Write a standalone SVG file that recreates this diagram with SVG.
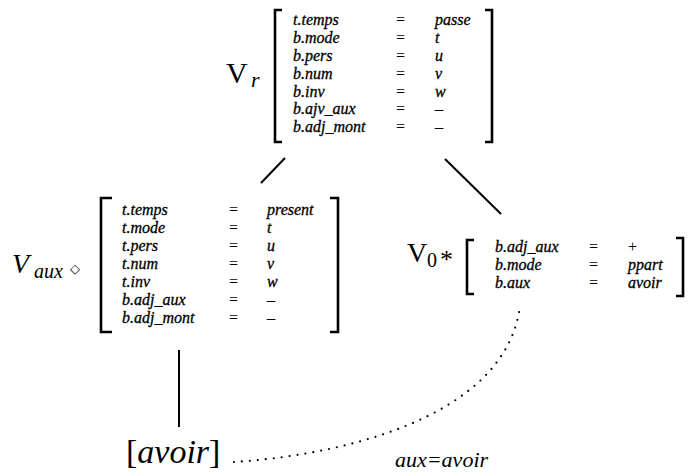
<svg xmlns="http://www.w3.org/2000/svg" width="688" height="475" viewBox="0 0 688 475">
<style>
text{font-family:'Liberation Serif','Times New Roman',serif;fill:#000}
.f{font-style:italic;font-size:16px;stroke:#000;stroke-width:0.3}
.eq{font-size:16px}
.br{fill:none;stroke:#000;stroke-width:2.6}
.ln{fill:none;stroke:#000;stroke-width:2}
.dot{fill:none;stroke:#000;stroke-width:2.2;stroke-linecap:round;stroke-dasharray:0 8}
</style>
<rect width="688" height="475" fill="#fff"/>
<g id="connectors">
<line class="ln" x1="285" y1="158" x2="261" y2="183"/>
<line class="ln" x1="445" y1="159" x2="501" y2="214"/>
<line class="ln" x1="179" y1="350" x2="179" y2="427"/>
<path class="dot" d="M234 462 C330 456 505 422 520 306"/>
<text x="395" y="467" font-size="22" font-style="italic">aux=avoir</text>
</g>
<g id="node-vr">
<text x="226" y="83" font-size="30">V</text>
<text x="251" y="87" font-size="22" font-style="italic">r</text>
<path class="br" d="M282 10 H275 V142 H282"/>
<path class="br" d="M485 10 H492 V142 H485"/>
<text class="f" x="293" y="25">t.temps</text><text class="eq" x="396" y="25">=</text><text class="f" x="435" y="25">passe</text>
<text class="f" x="293" y="43">b.mode</text><text class="eq" x="396" y="43">=</text><text class="f" x="435" y="43">t</text>
<text class="f" x="293" y="61">b.pers</text><text class="eq" x="396" y="61">=</text><text class="f" x="435" y="61">u</text>
<text class="f" x="293" y="79">b.num</text><text class="eq" x="396" y="79">=</text><text class="f" x="435" y="79">v</text>
<text class="f" x="293" y="97">b.inv</text><text class="eq" x="396" y="97">=</text><text class="f" x="435" y="97">w</text>
<text class="f" x="293" y="114">b.ajv_aux</text><text class="eq" x="396" y="114">=</text><text class="f" x="435" y="114">–</text>
<text class="f" x="293" y="132">b.adj_mont</text><text class="eq" x="396" y="132">=</text><text class="f" x="435" y="132">–</text>
</g>
<g id="node-vaux">
<text x="12" y="273" font-size="28" font-style="italic">V</text>
<text x="34" y="278" font-size="20" font-style="italic">aux</text>
<text x="75" y="273" font-size="13" text-anchor="middle" style="font-family:'DejaVu Sans',sans-serif">◇</text>
<path class="br" d="M112 198 H101 V332 H112"/>
<path class="br" d="M330 198 H338 V332 H330"/>
<text class="f" x="122" y="215">t.temps</text><text class="eq" x="229" y="215">=</text><text class="f" x="267" y="215">present</text>
<text class="f" x="122" y="233">t.mode</text><text class="eq" x="229" y="233">=</text><text class="f" x="267" y="233">t</text>
<text class="f" x="122" y="251">t.pers</text><text class="eq" x="229" y="251">=</text><text class="f" x="267" y="251">u</text>
<text class="f" x="122" y="269">t.num</text><text class="eq" x="229" y="269">=</text><text class="f" x="267" y="269">v</text>
<text class="f" x="122" y="287">t.inv</text><text class="eq" x="229" y="287">=</text><text class="f" x="267" y="287">w</text>
<text class="f" x="122" y="305">b.adj_aux</text><text class="eq" x="229" y="305">=</text><text class="f" x="267" y="305">–</text>
<text class="f" x="122" y="323">b.adj_mont</text><text class="eq" x="229" y="323">=</text><text class="f" x="267" y="323">–</text>
</g>
<g id="node-v0">
<text x="407" y="262" font-size="28">V</text>
<text x="427" y="267" font-size="20">0</text>
<text x="440" y="268" font-size="26">*</text>
<path class="br" d="M474 240 H467 V294 H474"/>
<path class="br" d="M676 238 H683 V296 H676"/>
<text class="f" x="495" y="252">b.adj_aux</text><text class="eq" x="589" y="252">=</text><text class="eq" x="628" y="252">+</text>
<text class="f" x="495" y="270">b.mode</text><text class="eq" x="589" y="270">=</text><text class="f" x="628" y="270">ppart</text>
<text class="f" x="495" y="288">b.aux</text><text class="eq" x="589" y="288">=</text><text class="f" x="628" y="288">avoir</text>
</g>
<g id="node-avoir">
<text x="126" y="463" font-size="34">[<tspan font-style="italic">avoir</tspan>]</text>
</g>
</svg>
